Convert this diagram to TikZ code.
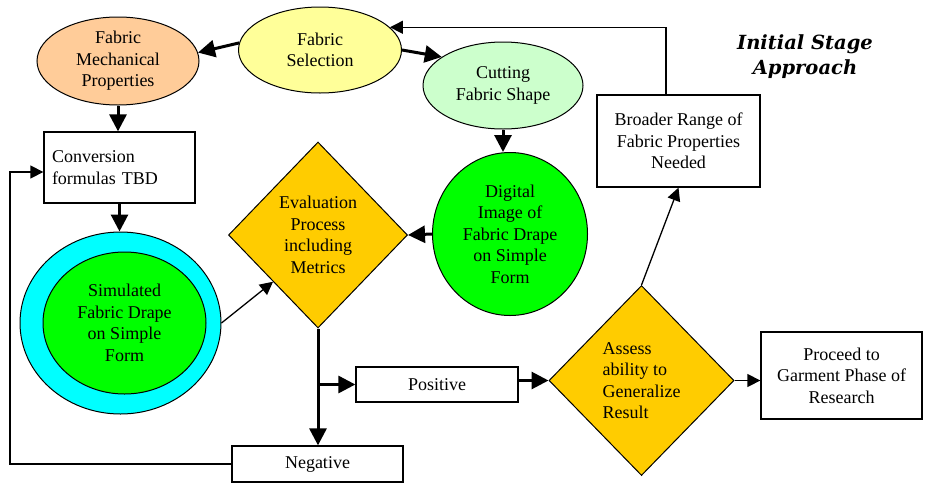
\documentclass[tikz,border=0pt]{standalone}
\usepackage{fontspec}
\setmainfont{Liberation Serif}
\newfontfamily\titlefont{DejaVu Serif}
\usetikzlibrary{shapes.geometric,arrows.meta}
\definecolor{peach}{HTML}{FFCC99}
\definecolor{paleyellow}{HTML}{FFFF99}
\definecolor{palegreen}{HTML}{CCFFCC}
\definecolor{brightgreen}{HTML}{00FF00}
\definecolor{aqua}{HTML}{00FFFF}
\definecolor{gold}{HTML}{FFCC00}
\begin{document}
\begin{tikzpicture}[x=1pt,y=-1pt,
  every node/.style={font=\fontsize{18}{21.5}\selectfont, align=center, inner sep=0pt},
  ell/.style={ellipse, draw, line width=1pt, inner sep=-4pt},
  box/.style={rectangle, draw, line width=1.3pt},
  dia/.style={diamond, draw, line width=1pt, fill=gold},
  thk/.style={line width=3pt, -{Triangle[length=17pt,width=17pt]}},
  thn/.style={line width=1.3pt, -{Triangle[length=13pt,width=13pt]}},
]
\useasboundingbox (0,0) rectangle (931,485);

% nodes
\node[ell, fill=peach, minimum width=162pt, minimum height=88pt] (mech) at (118,61) {Fabric\\Mechanical\\Properties};
\node[ell, fill=paleyellow, minimum width=163pt, minimum height=86pt] (sel) at (320,50) {Fabric\\Selection};
\node[ell, fill=palegreen, minimum width=160pt, minimum height=87pt] (cut) at (503,85.5) {Cutting\\Fabric Shape};
\node[ell, fill=brightgreen, minimum width=155pt, minimum height=163pt] (dig) at (510,234) {Digital\\Image of\\Fabric Drape\\on Simple\\Form};
\node[box, minimum height=71pt, text width=135pt, inner sep=8pt, align=left] (conv) at (119.5,167.5) {Conversion\\formulas TBD};
\node[ell, fill=aqua, minimum width=201pt, minimum height=182pt] (sim) at (120.5,323) {};
\node[ell, fill=brightgreen, minimum width=163pt, minimum height=142pt] (siminner) at (124.5,323) {Simulated\\Fabric Drape\\on Simple\\Form};
\node[dia, minimum width=179pt, minimum height=186pt] (eval) at (318,235) {Evaluation\\Process\\including\\Metrics};
\node[box, minimum width=162pt, minimum height=35pt] (positive) at (437,384.5) {Positive};
\node[box, minimum width=171pt, minimum height=36pt] (negative) at (317.5,464) {Negative};
\node[dia, minimum width=185pt, minimum height=190pt, align=left] (assess) at (641.5,380.5) {Assess\\ability to\\Generalize\\Result};
\node[box, minimum width=161pt, minimum height=87pt] (proceed) at (841.5,375.5) {Proceed to\\Garment Phase of\\Research};
\node[box, minimum width=163pt, minimum height=92pt] (broader) at (678.5,141) {Broader Range of\\Fabric Properties\\Needed};
\node[font=\titlefont\bfseries\itshape\fontsize{19.5}{25}\selectfont] (title) at (805,57) {Initial Stage\\Approach};

% connectors
\draw[thk] (sel.175) -- (mech.6);
\draw[thk] (sel.east) -- (cut.155);
\draw[thk] (mech.south) -- (mech.south |- conv.north);
\draw[thk] (conv.south) -- (conv.south |- sim.north);
\draw[thk] (cut.south) -- (cut.south |- dig.north);
\draw[thk] (dig.west) -- (eval.east);
\draw[thn] (sim.east) -- (eval.south west);
\draw[thk] (eval.south) -- (eval.south |- negative.north);
\coordinate (br) at (eval.south |- positive.west);
\draw[thk] (br) -- (positive.west);
\draw[thk] (positive.east |- assess.west) -- (assess.west);
\draw[thn] (assess.east) -- (proceed.west |- assess.east);
\draw[thn] (assess.north) -- (broader.south);
\draw[thn] ([xshift=-12.5pt]broader.north) |- (sel.18.7);
\coordinate (fbl) at (10,465);
\draw[thn] (negative.west) -- (negative.west -| fbl) |- ([yshift=-4.5pt]conv.west);
\end{tikzpicture}
\end{document}
